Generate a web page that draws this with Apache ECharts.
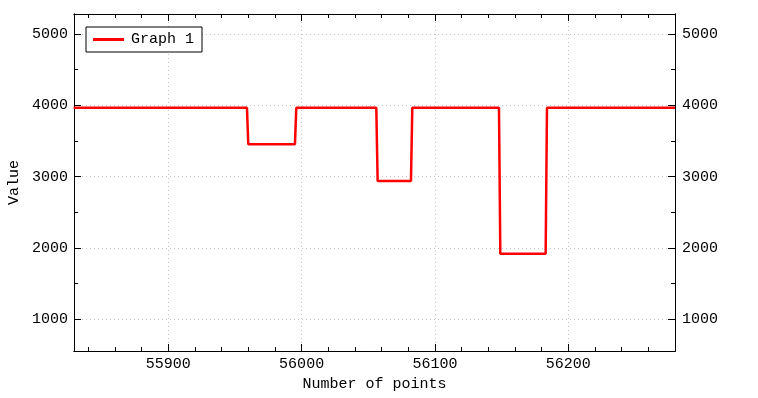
<!DOCTYPE html>
<html>

<head>
  <meta charset="UTF-8">
  <title>Graph 1</title>
  <script src="https://cdn.jsdelivr.net/npm/echarts@6/dist/echarts.min.js"></script>
  <style>
    body {
      margin: 0;
      padding: 0;
      background: #fff;
    }

    #chart {
      width: 758px;
      height: 398px;
    }
  </style>
</head>

<body>
  <div id="chart"></div>

  <script>
    // step signal (x = point number, y = value)
    var pointNo = [55829, 55959, 55960, 55995, 55996, 56056, 56057, 56082, 56083, 56148, 56149, 56183, 56184, 56280];
    var values = [3966, 3966, 3455, 3455, 3966, 3966, 2938, 2938, 3966, 3966, 1920, 1920, 3966, 3966];

    var xMajor = [55900, 56000, 56100, 56200];
    var xMinor = [55840, 55860, 55880, 55920, 55940, 55960, 55980, 56020, 56040, 56060, 56080,
      56120, 56140, 56160, 56180, 56220, 56240, 56260];
    var yMajor = [1000, 2000, 3000, 4000, 5000];
    var yMinor = [1500, 2500, 3500, 4500];

    var xMin = 55829.3, xMax = 56280;
    var yMin = 556, yMax = 5280;

    var font = 'Liberation Mono';
    var chart = echarts.init(document.getElementById('chart'), null, { renderer: 'canvas' });

    function axis(kind, pos, ticks, len, labels, grid) {
      return {
        type: 'value',
        position: pos,
        min: kind === 'x' ? xMin : yMin,
        max: kind === 'x' ? xMax : yMax,
        axisLine: { show: true, onZero: false, lineStyle: { color: '#000', width: 1 } },
        axisTick: { show: true, inside: true, length: len, customValues: ticks, lineStyle: { color: '#000', width: 1 } },
        axisLabel: {
          show: labels,
          customValues: labels ? ticks : undefined,
          formatter: function (v) { return String(v); },
          margin: 6,
          color: '#000',
          fontFamily: font,
          fontSize: 15
        },
        splitLine: { show: grid, lineStyle: { color: '#c4c4c4', type: [1, 3], width: 1 } },
        minorTick: { show: false },
        minorSplitLine: { show: false }
      };
    }

    var xAxes = [
      axis('x', 'bottom', xMajor, 7, true, true),
      axis('x', 'bottom', xMinor, 4, false, false),
      axis('x', 'top', xMajor, 7, false, false),
      axis('x', 'top', xMinor, 4, false, false)
    ];
    xAxes[0].name = 'Number of points';
    xAxes[0].nameLocation = 'middle';
    xAxes[0].nameGap = 26;
    xAxes[0].nameTextStyle = { color: '#000', fontFamily: font, fontSize: 15 };

    var yAxes = [
      axis('y', 'left', yMajor, 7, true, true),
      axis('y', 'left', yMinor, 4, false, false),
      axis('y', 'right', yMajor, 7, true, false),
      axis('y', 'right', yMinor, 4, false, false)
    ];
    yAxes[0].name = 'Value';
    yAxes[0].nameLocation = 'middle';
    yAxes[0].nameGap = 52;
    yAxes[0].nameTextStyle = { color: '#000', fontFamily: font, fontSize: 15 };
    yAxes[2].axisLabel.margin = 7;

    var data = [];
    for (var i = 0; i < pointNo.length; i++) {
      data.push([pointNo[i], values[i]]);
    }

    chart.setOption({
      animation: false,
      grid: { left: 74, right: 83, top: 14, bottom: 47, containLabel: false, outerBoundsMode: 'none' },
      legend: {
        left: 86,
        top: 27,
        orient: 'vertical',
        backgroundColor: '#fff',
        borderColor: '#000',
        borderWidth: 1,
        borderRadius: 0,
        padding: [5, 8, 5, 7],
        icon: 'rect',
        itemWidth: 31,
        itemHeight: 3,
        itemGap: 0,
        textStyle: { color: '#000', fontFamily: font, fontSize: 15, padding: [0, 0, 0, 2] },
        data: ['Graph 1']
      },
      xAxis: xAxes,
      yAxis: yAxes,
      series: [{
        name: 'Graph 1',
        type: 'line',
        xAxisIndex: 0,
        yAxisIndex: 0,
        symbol: 'none',
        lineStyle: { color: '#ff0000', width: 2.5 },
        itemStyle: { color: '#ff0000' },
        data: data
      }]
    });
  </script>
</body>

</html>
